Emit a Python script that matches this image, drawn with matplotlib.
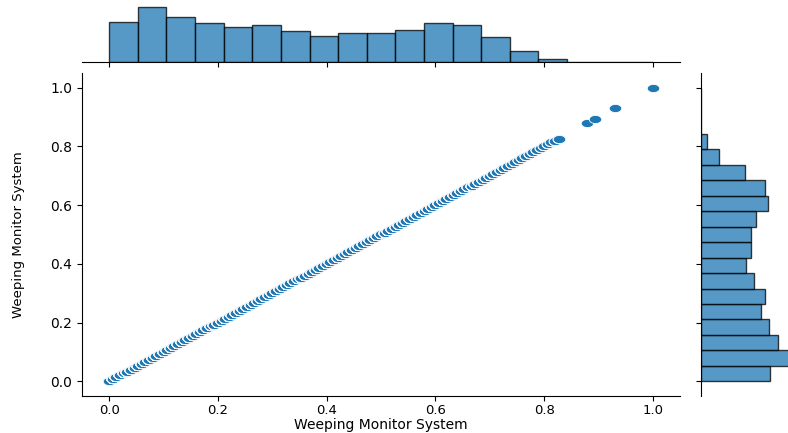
import numpy as np
import matplotlib
matplotlib.use("Agg")
import matplotlib.pyplot as plt
from matplotlib.markers import MarkerStyle
from matplotlib.transforms import Affine2D

# counts per bin (19 equal bins over 0..1)
bin_counts = [377, 523, 423, 373, 330, 353, 293, 247, 277, 277,
              300, 367, 353, 240, 100, 33]
# isolated points at the top end
outliers = [0.878, 0.893, 0.93, 1.0]
n_bins = 19
step = 1 / 150  # values sit on a coarse grid (stacked dots)
label = "Weeping Monitor System"

edges = np.linspace(0, 1, n_bins + 1)
grid = np.arange(0, 0.83 + step / 2, step)
vals = []
for i, c in enumerate(bin_counts):
    pts = grid[(grid >= edges[i]) & (grid < edges[i + 1])]
    vals.append(np.sort(pts[np.arange(c) % len(pts)]))
vals.append(np.array(outliers))
x = np.concatenate(vals)

fig = plt.figure(figsize=(7.88, 4.33), dpi=100)
ax = fig.add_axes([0.1041, 0.0855, 0.7589, 0.746])
ax_top = fig.add_axes([0.1041, 0.8568, 0.7589, 0.134], sharex=ax)
ax_right = fig.add_axes([0.8896, 0.0855, 0.127, 0.746], sharey=ax)

mk = MarkerStyle("o", transform=Affine2D().scale(1.3, 0.85))
ax.scatter(x, x, s=48, marker=mk, color="#1f77b4", edgecolor="white", linewidth=0.6)
ax.set_xlim(-0.05, 1.05)
ax.set_ylim(-0.05, 1.05)
ax.set_xticks([0, 0.2, 0.4, 0.6, 0.8, 1.0])
ax.set_yticks([0, 0.2, 0.4, 0.6, 0.8, 1.0])
ax.tick_params(labelsize=10)
ax.tick_params(axis="x", pad=2, labelsize=9.5)
ax.set_xlabel(label, fontsize=10)
ax.xaxis.set_label_coords(0.5, -0.068)
ax.set_ylabel(label, fontsize=9.5, labelpad=18)
for s in ["top", "right"]:
    ax.spines[s].set_visible(False)

ax_top.hist(x, bins=edges, color="#1f77b4", alpha=0.75, edgecolor="black", linewidth=1)
ax_right.hist(x, bins=edges, orientation="horizontal", color="#1f77b4", alpha=0.75,
              edgecolor="black", linewidth=1)

ax_top.set_ylim(0, 549)
ax_right.set_xlim(0, 549)
for s in ["top", "right", "left"]:
    ax_top.spines[s].set_visible(False)
for s in ["top", "right", "bottom"]:
    ax_right.spines[s].set_visible(False)
ax_top.tick_params(labelbottom=False, left=False, labelleft=False)
ax_right.tick_params(labelleft=False, bottom=False, labelbottom=False)

fig.savefig("out.png", dpi=100)
